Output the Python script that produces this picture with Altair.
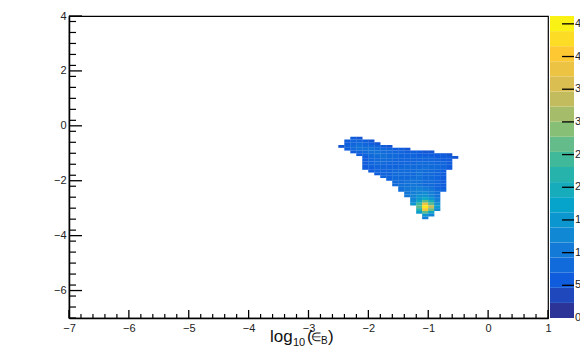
import altair as alt
import pandas as pd
import numpy as np

# ---------------- data ----------------
X_DOMAIN = [-7, 1]
Y_DOMAIN = [-7, 4]
Z_MAX = 46.2

X_MAJOR = [-7, -6, -5, -4, -3, -2, -1, 0, 1]
Y_MAJOR = [-6, -4, -2, 0, 2, 4]
Z_TICKS = [0, 5, 10, 15, 20, 25, 30, 35, 40, 45]

# density grid: cell size 0.1 x 0.1, each row = (row centre y, first cell centre x, values)
ROW_Y = [-0.45, -0.55, -0.65, -0.75, -0.85, -0.95, -1.05, -1.15, -1.25, -1.35,
         -1.45, -1.55, -1.65, -1.75, -1.85, -1.95, -2.05, -2.15, -2.25, -2.35,
         -2.45, -2.55, -2.65, -2.75, -2.85, -2.95, -3.05, -3.15, -3.25, -3.35]
ROW_X0 = [-2.25, -2.35, -2.35, -2.45, -2.35, -2.25, -2.15, -2.05, -2.05, -2.05,
          -2.05, -2.05, -1.95, -1.85, -1.75, -1.65, -1.55, -1.55, -1.45, -1.45,
          -1.35, -1.35, -1.25, -1.25, -1.25, -1.15, -1.15, -1.15, -1.05, -1.05]
ROW_VALUES = [
    [6, 5],
    [6, 7, 7, 6, 5],
    [6, 7, 8, 7, 6, 5],
    [5, 7, 8, 9, 8, 8, 7, 6, 5],
    [6, 8, 9, 9, 9, 8, 8, 7, 6, 6, 5],
    [6, 7, 8, 9, 9, 8, 8, 7, 7, 6, 6, 6, 5, 5],
    [6, 7, 8, 9, 9, 8, 8, 7, 7, 7, 6, 6, 6, 6, 6, 5],
    [6, 8, 8, 9, 8, 8, 7, 7, 7, 7, 7, 7, 6, 6, 6, 5],
    [6, 7, 8, 8, 8, 7, 7, 7, 7, 7, 7, 7, 7, 6, 6],
    [6, 7, 8, 8, 7, 7, 7, 7, 7, 8, 8, 8, 7, 7, 6],
    [6, 7, 7, 7, 7, 7, 7, 8, 8, 8, 8, 8, 8, 7, 6],
    [6, 6, 7, 7, 7, 7, 8, 8, 8, 8, 9, 8, 8, 7, 6],
    [6, 7, 7, 7, 8, 8, 8, 8, 9, 8, 8, 7, 6],
    [6, 7, 7, 8, 8, 8, 8, 9, 8, 8, 7, 6],
    [7, 7, 8, 8, 8, 8, 9, 8, 8, 7, 6],
    [7, 8, 8, 8, 9, 9, 8, 8, 7, 6],
    [8, 8, 9, 9, 9, 8, 8, 7, 6],
    [8, 9, 9, 10, 9, 8, 8, 7, 6],
    [9, 10, 10, 11, 10, 9, 7, 6],
    [9, 10, 11, 12, 11, 10, 8, 7],
    [10, 11, 12, 13, 11, 9],
    [10, 12, 14, 14, 12, 9],
    [12, 15, 18, 15, 11],
    [13, 18, 26, 20, 12],
    [15, 24, 38, 26, 14],
    [26, 44, 34, 16],
    [22, 40, 28, 13],
    [16, 26, 18],
    [15, 12],
    [11],
]

# ROOT "kBird" palette stops
PALETTE = ["#352a87", "#0f5cdd", "#1481d6", "#06a4ca", "#2eb7a4",
           "#87bf77", "#d1bb59", "#fec832", "#f9fb0e"]
N_BANDS = 20

# ---------------- tables ----------------
HALF = 0.052
cells = []
for yc, x0, vals in zip(ROW_Y, ROW_X0, ROW_VALUES):
    for i, v in enumerate(vals):
        xc = x0 + 0.1 * i
        cells.append({"x": xc - HALF, "x2": xc + HALF,
                      "y": yc - HALF, "y2": yc + HALF, "z": v})
cells = pd.DataFrame(cells)

x_minor = [round(v, 2) for v in np.arange(-7, 1.001, 0.2) if abs(v - round(v)) > 1e-6]
y_minor = [round(v, 2) for v in np.arange(-7, 4.001, 0.4)
           if min(abs(v - m) for m in Y_MAJOR) > 1e-6]

edges = np.linspace(0, Z_MAX, N_BANDS + 1)
bands = pd.DataFrame({"lo": edges[:-1], "hi": edges[1:],
                      "z": (edges[:-1] + edges[1:]) / 2})

# ---------------- scales / axes ----------------
xs = alt.Scale(domain=X_DOMAIN, nice=False, zero=False)
ys = alt.Scale(domain=Y_DOMAIN, nice=False, zero=False)
zs = alt.Scale(domain=[0, Z_MAX], nice=False, zero=False)
cs = alt.Scale(domain=list(np.linspace(0, Z_MAX, len(PALETTE))), range=PALETTE,
               interpolate="rgb")

W, H = 479, 302
FONT = "Liberation Sans"

AX_X = alt.Axis(values=X_MAJOR, ticks=False, grid=False, domain=True,
                domainColor="black", domainWidth=1.5, labelPadding=4,
                labelFlush=False, labelFontSize=11, labelFont=FONT,
                labelColor="#222", title=None)
AX_Y = alt.Axis(values=Y_MAJOR, ticks=False, grid=False, domain=True,
                domainColor="black", domainWidth=1.5, labelPadding=3,
                labelFlush=False, labelFontSize=11, labelFont=FONT,
                labelColor="#222", title=None)

blob = alt.Chart(cells).mark_rect(strokeWidth=0).encode(
    x=alt.X("x:Q", scale=xs, axis=AX_X), x2="x2:Q",
    y=alt.Y("y:Q", scale=ys, axis=AX_Y), y2="y2:Q",
    color=alt.Color("z:Q", scale=cs, legend=None),
)

y_major_ticks = alt.Chart(pd.DataFrame({"v": Y_MAJOR})).mark_rule(
    color="black", strokeWidth=1.3).encode(
    y=alt.Y("v:Q", scale=ys, axis=AX_Y), x=alt.value(0), x2=alt.value(13))
y_minor_ticks = alt.Chart(pd.DataFrame({"v": y_minor})).mark_rule(
    color="black", strokeWidth=1.2).encode(
    y=alt.Y("v:Q", scale=ys, axis=AX_Y), x=alt.value(0), x2=alt.value(7))
x_major_ticks = alt.Chart(pd.DataFrame({"v": X_MAJOR})).mark_rule(
    color="black", strokeWidth=1.3).encode(
    x=alt.X("v:Q", scale=xs, axis=AX_X), y=alt.value(H), y2=alt.value(H - 8))
x_minor_ticks = alt.Chart(pd.DataFrame({"v": x_minor})).mark_rule(
    color="black", strokeWidth=1.2).encode(
    x=alt.X("v:Q", scale=xs, axis=AX_X), y=alt.value(H), y2=alt.value(H - 4))

one = alt.Data(values=[{"a": 1}])


def piece(txt, x, y, size):
    return alt.Chart(one).mark_text(text=txt, align="left", baseline="alphabetic",
                                    font=FONT, fontSize=size, color="#111").encode(
        x=alt.value(x), y=alt.value(y))


title = alt.layer(
    piece("log", 201, 326, 17),
    piece("10", 224, 330, 11),
    piece("(", 238, 326, 17),
    piece("∈", 242, 325, 12),
    piece("B", 252, 328, 10),
    piece(")", 259, 326, 17),
)

main = alt.layer(blob, y_minor_ticks, y_major_ticks, x_minor_ticks, x_major_ticks, title)

cb_rect = alt.Chart(bands).mark_rect(strokeWidth=0).encode(
    y=alt.Y("lo:Q", scale=zs, axis=None), y2="hi:Q",
    x=alt.value(481), x2=alt.value(505),
    color=alt.Color("z:Q", scale=cs, legend=None))
cb_ticks = alt.Chart(pd.DataFrame({"v": Z_TICKS[1:]})).mark_rule(
    color="black", strokeWidth=1.3).encode(
    y=alt.Y("v:Q", scale=zs, axis=None), x=alt.value(493), x2=alt.value(505))
cb_labels = alt.Chart(pd.DataFrame({"v": Z_TICKS, "t": [str(t) for t in Z_TICKS]})).mark_text(
    align="left", baseline="middle", font=FONT, fontSize=11, color="#222").encode(
    y=alt.Y("v:Q", scale=zs, axis=None), x=alt.value(506), text="t:N")

cbar = alt.layer(cb_rect, cb_ticks, cb_labels)

chart = alt.layer(main, cbar).resolve_scale(y="independent").properties(
    width=W, height=H,
    autosize=alt.AutoSizeParams(type="none"),
    padding={"left": 61, "top": 8, "right": 32, "bottom": 30},
).configure_view(stroke="black", strokeWidth=1.2)

chart.save("out.html", embed_options={"renderer": "svg", "actions": False})
